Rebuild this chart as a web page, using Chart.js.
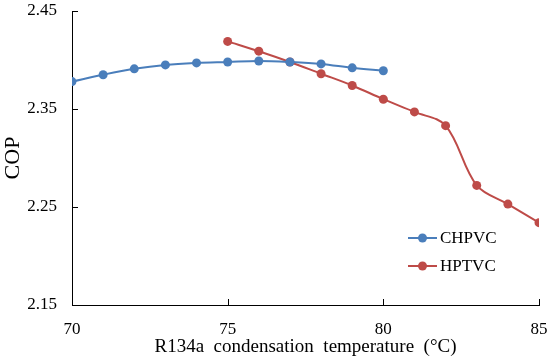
<!DOCTYPE html>
<html>
<head>
<meta charset="utf-8">
<script src="https://cdn.jsdelivr.net/npm/chart.js@4.4.0/dist/chart.umd.min.js"></script>
<style>
  html, body { margin: 0; padding: 0; background: #fff; }
  #wrap { width: 550px; height: 364px; position: relative; }
</style>
</head>
<body>
<div id="wrap"><canvas id="chart" width="550" height="364"></canvas></div>
<script>
// condensation temperatures (°C)
const chpvcTemps = [70, 71, 72, 73, 74, 75, 76, 77, 78, 79, 80];
const chpvcCop = [2.378, 2.385, 2.391, 2.395, 2.397, 2.398, 2.399, 2.398, 2.396, 2.392, 2.389];

const hptvcTemps = [75, 76, 77, 78, 79, 80, 81, 82, 83, 84, 85];
const hptvcCop = [2.419, 2.409, 2.398, 2.386, 2.374, 2.360, 2.347, 2.333, 2.272, 2.253, 2.234];

const xTicks = [70, 75, 80, 85];
const yTicks = [2.15, 2.25, 2.35, 2.45];

const blue = '#4a7ebb';
const red = '#be4b48';
const serif = '"Liberation Serif", "Times New Roman", serif';

function toPoints(xs, ys) {
  return xs.map((x, i) => ({ x: x, y: ys[i] }));
}

function noScalePadding(s) {
  s.paddingTop = 0;
  s.paddingBottom = 0;
  s.paddingLeft = 0;
  s.paddingRight = 0;
}

// ticks drawn pointing into the plot, like the original
const innerTicks = {
  id: 'innerTicks',
  afterDraw(chart) {
    const ctx = chart.ctx;
    const xs = chart.scales.x, ys = chart.scales.y;
    ctx.save();
    ctx.strokeStyle = '#000';
    ctx.lineWidth = 1;
    ctx.beginPath();
    xTicks.forEach(v => {
      const px = Math.round(xs.getPixelForValue(v)) + 0.5;
      ctx.moveTo(px, ys.bottom);
      ctx.lineTo(px, ys.bottom - 6);
    });
    yTicks.forEach(v => {
      const py = Math.round(ys.getPixelForValue(v)) + 0.5;
      ctx.moveTo(xs.left, py);
      ctx.lineTo(xs.left + 6, py);
    });
    ctx.stroke();
    ctx.restore();
  }
};

// legend sitting inside the plot, lower right
const insideLegend = {
  id: 'insideLegend',
  afterDraw(chart) {
    const ctx = chart.ctx;
    ctx.save();
    ctx.font = '17px ' + serif;
    ctx.textBaseline = 'middle';
    chart.data.datasets.forEach((ds, i) => {
      const y = 238 + i * 28;
      ctx.strokeStyle = ds.borderColor;
      ctx.lineWidth = 2;
      ctx.beginPath();
      ctx.moveTo(408, y);
      ctx.lineTo(437, y);
      ctx.stroke();
      ctx.fillStyle = ds.backgroundColor;
      ctx.beginPath();
      ctx.arc(422.5, y, 4.5, 0, Math.PI * 2);
      ctx.fill();
      ctx.fillStyle = '#000';
      ctx.fillText(ds.label, 440, y + 1);
    });
    ctx.restore();
  }
};

new Chart(document.getElementById('chart'), {
  type: 'line',
  data: {
    datasets: [
      {
        label: 'CHPVC',
        data: toPoints(chpvcTemps, chpvcCop),
        borderColor: blue,
        backgroundColor: blue,
        borderWidth: 2,
        pointRadius: 4.5,
        pointBorderWidth: 0,
        tension: 0.35
      },
      {
        label: 'HPTVC',
        data: toPoints(hptvcTemps, hptvcCop),
        borderColor: red,
        backgroundColor: red,
        borderWidth: 2,
        pointRadius: 4.5,
        pointBorderWidth: 0,
        tension: 0.35
      }
    ]
  },
  options: {
    responsive: false,
    animation: false,
    layout: { padding: { top: 11, right: 11, left: 0, bottom: 0 } },
    scales: {
      x: {
        type: 'linear',
        min: 70,
        max: 85,
        afterBuildTicks: s => { s.ticks = xTicks.map(v => ({ value: v })); },
        afterFit: s => { s.height = 59; noScalePadding(s); },
        grid: { display: false, drawTicks: false },
        border: { display: true, color: '#000', width: 1 },
        ticks: {
          color: '#000',
          padding: 14,
          maxRotation: 0,
          font: { family: serif, size: 17 }
        },
        title: {
          display: true,
          text: 'R134a  condensation  temperature  (°C)',
          color: '#000',
          padding: { top: 0, bottom: 6 },
          font: { family: serif, size: 19 }
        }
      },
      y: {
        min: 2.15,
        max: 2.45,
        afterBuildTicks: s => { s.ticks = yTicks.map(v => ({ value: v })); },
        afterFit: s => { s.width = 72; noScalePadding(s); },
        grid: { display: false, drawTicks: false },
        border: { display: true, color: '#000', width: 1 },
        ticks: {
          color: '#000',
          padding: 15,
          font: { family: serif, size: 17 },
          callback: v => v.toFixed(2)
        },
        title: {
          display: true,
          text: 'COP',
          color: '#000',
          padding: { top: 0, bottom: 0 },
          font: { family: serif, size: 22 }
        }
      }
    },
    plugins: {
      legend: { display: false },
      tooltip: { enabled: false }
    }
  },
  plugins: [innerTicks, insideLegend]
});
</script>
</body>
</html>
